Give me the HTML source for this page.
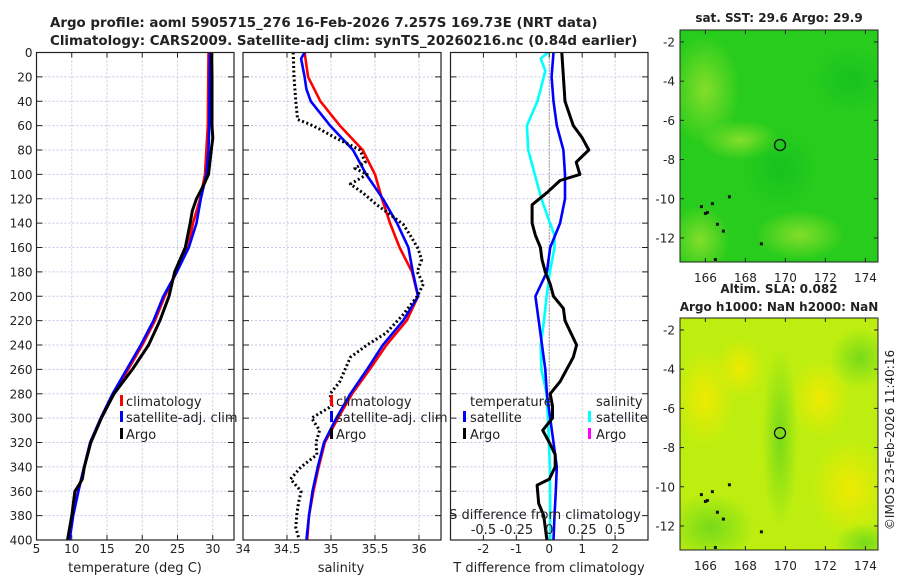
<!DOCTYPE html>
<html><head><meta charset="utf-8"><style>
body{margin:0;background:#fff;}
svg text{font-family:"DejaVu Sans","Liberation Sans",sans-serif;fill:#222;}
</style></head><body>
<svg id="c" width="900" height="580" viewBox="0 0 900 580" xmlns="http://www.w3.org/2000/svg">
<defs>
<radialGradient id="g1" cx="50%" cy="50%" r="50%"><stop offset="0" stop-color="#8ee02c" stop-opacity="0.9"/><stop offset="1" stop-color="#8ee02c" stop-opacity="0"/></radialGradient>
<radialGradient id="g2" cx="50%" cy="50%" r="50%"><stop offset="0" stop-color="#f0ea00" stop-opacity="0.95"/><stop offset="1" stop-color="#f0ea00" stop-opacity="0"/></radialGradient>
<radialGradient id="g3" cx="50%" cy="50%" r="50%"><stop offset="0" stop-color="#6fd81a" stop-opacity="0.9"/><stop offset="1" stop-color="#6fd81a" stop-opacity="0"/></radialGradient>
<radialGradient id="g4" cx="50%" cy="50%" r="50%"><stop offset="0" stop-color="#12c020" stop-opacity="0.8"/><stop offset="1" stop-color="#12c020" stop-opacity="0"/></radialGradient>
<clipPath id="m1"><rect x="680" y="30" width="198" height="232"/></clipPath>
<clipPath id="m2"><rect x="680" y="318" width="198" height="232"/></clipPath>
</defs>
<text x="50" y="27" font-size="13.4" font-weight="bold">Argo profile: aoml 5905715_276 16-Feb-2026 7.257S 169.73E (NRT data)</text>
<text x="50" y="45" font-size="13.4" font-weight="bold">Climatology: CARS2009. Satellite-adj clim: synTS_20260216.nc (0.84d earlier)</text>
<text x="779" y="22" font-size="12" font-weight="bold" text-anchor="middle">sat. SST: 29.6 Argo: 29.9</text>
<text x="779" y="293" font-size="12" font-weight="bold" text-anchor="middle">Altim. SLA: 0.082</text>
<text x="779" y="311" font-size="12" font-weight="bold" text-anchor="middle">Argo h1000: NaN h2000: NaN</text>
<text transform="translate(894,440) rotate(-90)" font-size="12" text-anchor="middle">©IMOS 23-Feb-2026 11:40:16</text>
<g id="plots"></g>
</svg>
<script>
const depthTicks=[0,20,40,60,80,100,120,140,160,180,200,220,240,260,280,300,320,340,360,380,400];
// temperature panel
const tDepth=[0,60,80,100,120,140,160,180,200,220,240,260,280,300,320,340,360,380,400];
const tClim=[29.4,29.3,29.1,28.9,28.2,27.2,26.5,24.9,23.2,21.8,20.0,18.0,15.9,14.15,12.66,11.75,10.9,10.1,9.6];
const tSat=[29.6,29.5,29.4,29.1,28.3,27.7,26.6,24.9,23.0,21.6,19.8,17.8,15.8,14.1,12.6,11.75,10.95,10.2,9.7];
const tArgoDepth=[0,20,40,60,70,80,90,100,110,120,130,140,160,180,200,220,240,260,280,300,320,340,350,355,360,380,400];
const tArgo=[29.85,29.9,29.9,29.9,30.0,29.8,29.6,29.4,28.6,27.7,27.1,26.8,26.1,24.6,23.8,22.5,20.9,18.6,16.0,14.2,12.7,11.8,11.5,11.0,10.45,10.0,9.4];
const tTicks=[5,10,15,20,25,30];
// salinity panel
const sDepth=[0,20,40,60,80,100,120,140,160,180,200,220,240,260,280,300,320,340,360,380,400];
const sClim=[34.70,34.74,34.88,35.10,35.36,35.50,35.58,35.67,35.78,35.92,35.99,35.86,35.63,35.44,35.24,35.08,34.93,34.86,34.80,34.75,34.73];
const sSatDepth=[0,5,20,30,40,60,80,100,120,140,160,180,200,220,240,260,280,300,320,340,360,380,400];
const sSat=[34.70,34.66,34.70,34.72,34.77,34.99,35.25,35.40,35.59,35.75,35.88,35.93,35.99,35.82,35.59,35.41,35.22,35.06,34.92,34.85,34.79,34.75,34.72];
const sArgoDepth=[0,20,40,55,58,62,70,80,90,95,100,108,115,125,141,150,161,170,180,190,200,215,230,240,250,270,280,290,300,310,320,330,340,350,360,370,380,390,400];
const sArgo=[34.57,34.58,34.60,34.62,34.73,34.85,35.05,35.33,35.39,35.27,35.41,35.22,35.36,35.52,35.82,35.90,35.99,36.03,35.98,36.05,35.98,35.82,35.63,35.41,35.22,35.10,34.99,35.01,34.78,34.87,34.83,34.84,34.66,34.54,34.66,34.63,34.61,34.60,34.64];
const sTicks=[34,34.5,35,35.5,36];
// difference panel
const dSatDepth=[0,20,40,60,80,100,120,140,160,180,200,220,240,260,280,300,320,340,360,380,400];
const dTSat=[0.13,0.07,0.13,0.23,0.43,0.48,0.48,0.33,0.03,-0.07,-0.42,-0.32,-0.22,-0.12,-0.07,0.03,0.13,0.23,0.2,0.16,0.13];
const dArgoDepth=[0,20,40,60,70,80,90,100,105,115,125,140,150,160,170,180,190,200,210,220,240,250,260,270,280,290,300,310,320,330,340,350,355,370,380,400];
const dTArgo=[0.38,0.43,0.48,0.73,1.0,1.2,0.82,0.93,0.33,-0.07,-0.52,-0.52,-0.42,-0.27,-0.22,-0.12,0.03,0.13,0.43,0.48,0.83,0.73,0.53,0.33,0.03,0.1,0.1,-0.2,0.0,0.18,0.18,0.0,-0.37,-0.32,-0.17,-0.07];
const dSDepth=[0,5,15,30,40,60,80,100,120,140,150,160,180,200,220,240,260,280,300,340,400];
const dSSat=[-0.01,-0.065,-0.03,-0.065,-0.09,-0.17,-0.16,-0.11,-0.06,0.005,0.04,0.04,0.005,-0.02,-0.04,-0.065,-0.06,-0.02,-0.01,0.005,0.008];
const dTTicks=[-2,-1,0,1,2];
const dSTickVals=[-0.5,-0.25,0,0.25,0.5];
const dSTickLabels=["-0.5","-0.25","0","0.25","0.5"];
// maps
const lonTicks=[166,168,170,172,174];
const latTicks=[-2,-4,-6,-8,-10,-12];
const argoLon=169.73, argoLat=-7.257;
const islandsLon=[165.8,166.0,166.1,166.6,166.9,167.2,166.35,168.8,166.5];
const islandsLat=[-10.4,-10.75,-10.7,-11.3,-11.65,-9.9,-10.25,-12.3,-13.1];

const NS="http://www.w3.org/2000/svg";
const root=document.getElementById('plots');
function el(tag,attrs,parent){const e=document.createElementNS(NS,tag);for(const k in attrs)e.setAttribute(k,attrs[k]);(parent||root).appendChild(e);return e;}
const top0=52.5, bot=540;
const yD=d=>top0+(bot-top0)*d/400;
function mkx(x0,x1,v0,v1){return v=>x0+(x1-x0)*(v-v0)/(v1-v0);}

function panel(name,x0,x1,xs,xticks,xlabels,showY){
  const g=el('g',{});
  
  
  xticks.forEach(v=>{const x=xs(v);
    const l=el('line',{x1:x,x2:x,y1:top0,y2:bot,stroke:'#c9c6e6','stroke-dasharray':'2,2','stroke-width':1},g);
    
    el('line',{x1:x,x2:x,y1:bot,y2:bot-5,stroke:'#222'},g);el('line',{x1:x,x2:x,y1:top0,y2:top0+5,stroke:'#222'},g);});
  depthTicks.forEach(d=>{const y=yD(d);
    const l=el('line',{x1:x0,x2:x1,y1:y,y2:y,stroke:'#c9c6e6','stroke-dasharray':'2,2','stroke-width':1},g);
    
    el('line',{x1:x0,x2:x0+6,y1:y,y2:y,stroke:'#222'},g);el('line',{x1:x1,x2:x1-6,y1:y,y2:y,stroke:'#222'},g);
    if(showY){const t=el('text',{x:x0-4,y:y+4.5,'font-size':12,'text-anchor':'end'},g);t.textContent=d;
      }});
  if(xlabels) xticks.forEach((v,i)=>{const t=el('text',{x:xs(v),y:553,'font-size':12,'text-anchor':'middle'},g);t.textContent=xlabels[i];
    });
  return g;
}
function line(g,name,xs,vals,depths,color,w,dash){
  const pts=vals.map((v,i)=>xs(v).toFixed(1)+','+yD(depths[i]).toFixed(1)).join(' ');
  const p=el('polyline',{points:pts,fill:'none',stroke:color,'stroke-width':w,'stroke-linejoin':'round'},g);
  if(dash)p.setAttribute('stroke-dasharray',dash);
  
  
}
function frame(g,x0,x1){el('rect',{x:x0,y:top0,width:x1-x0,height:bot-top0,fill:'none',stroke:'#222','stroke-width':1.2},g);}
function txt(g,name,x,y,s,size,anchor){const t=el('text',{x:x,y:y,'font-size':size||12,'text-anchor':anchor||'start'},g);t.textContent=s;
  return t;}
function legMark(g,x,y,color){el('rect',{x:x,y:y-11,width:3,height:11,fill:color},g);}

// Panel 1
const xT=mkx(36.5,234,5,5+197.5/7.05);
const g1=panel('temperature-panel',36.5,234,xT,tTicks,tTicks.map(String),true);
line(g1,'temperature-climatology-line',xT,tClim,tDepth,'#ff0000',2.6);
line(g1,'temperature-satellite-line',xT,tSat,tDepth,'#0000ff',2.6);
line(g1,'temperature-argo-line',xT,tArgo,tArgoDepth,'#000',3);
frame(g1,36.5,234);
txt(g1,'temperature-axis-title',135,572,'temperature (deg C)',13,'middle');
legMark(g1,120,406,'#ff0000');txt(g1,'legend-climatology',126,406,'climatology',13);
legMark(g1,120,422,'#0000ff');txt(g1,'legend-satellite-adj',126,422,'satellite-adj. clim',13);
legMark(g1,120,439,'#000');txt(g1,'legend-argo',126,439,'Argo',13);

// Panel 2
const xS=mkx(243,441,34,34+198/88);
const g2=panel('salinity-panel',243,441,xS,sTicks,["34","34.5","35","35.5","36"],false);
line(g2,'salinity-climatology-line',xS,sClim,sDepth,'#ff0000',2.6);
line(g2,'salinity-satellite-line',xS,sSat,sSatDepth,'#0000ff',2.6);
line(g2,'salinity-argo-line',xS,sArgo,sArgoDepth,'#000',3,'2,2.5');
frame(g2,243,441);
txt(g2,'salinity-axis-title',341,572,'salinity',13,'middle');
legMark(g2,330,406,'#ff0000');txt(g2,'legend-climatology-2',336,406,'climatology',13);
legMark(g2,330,422,'#0000ff');txt(g2,'legend-satellite-adj-2',336,422,'satellite-adj. clim',13);
legMark(g2,330,439,'#000');txt(g2,'legend-argo-2',336,439,'Argo',13);

// Panel 3
const xD=mkx(450.5,648,-3,3);
const xDS=mkx(450.5,648,-0.75,0.75);
const g3=panel('difference-panel',450.5,648,xD,dTTicks,dTTicks.map(String),false);
el('line',{x1:xD(0),x2:xD(0),y1:top0,y2:bot,stroke:'#555','stroke-dasharray':'1,2'},g3);
line(g3,'salinity-satellite-diff-line',xDS,dSSat,dSDepth,'#00ffff',2.6);
line(g3,'temperature-satellite-diff-line',xD,dTSat,dSatDepth,'#0000ff',2.6);
line(g3,'temperature-argo-diff-line',xD,dTArgo,dArgoDepth,'#000',3);
frame(g3,450.5,648);
txt(g3,'t-diff-axis-title',549,572,'T difference from climatology',13,'middle');
txt(g3,'s-diff-axis-title',545,519,'S difference from climatology',13,'middle');
dSTickVals.forEach((v,i)=>txt(g3,'s-diff-tick-label',xDS(v),534,dSTickLabels[i],13,'middle'));
txt(g3,'legend-temperature-header',470,406,'temperature',13);
txt(g3,'legend-salinity-header',596,406,'salinity',13);
legMark(g3,463,422,'#0000ff');txt(g3,'legend-t-satellite',470,422,'satellite',13);
legMark(g3,463,439,'#000');txt(g3,'legend-t-argo',470,439,'Argo',13);
legMark(g3,588,422,'#00ffff');txt(g3,'legend-s-satellite',596,422,'satellite',13);
legMark(g3,588,439,'#ff00ff');txt(g3,'legend-s-argo',596,439,'Argo',13);

// Maps
function map(name,y0,clip,kind){
  const g=el('g',{});
  
  
  const mx=mkx(680,880,164.73,174.73);
  const my=v=>y0+(-1.39-v)*19.6;
  const c=el('g',{'clip-path':'url(#'+clip+')'},g);
  if(kind==='sst'){
    el('rect',{x:680,y:y0,width:200,height:232,fill:'#28cc1c'},c);
    el('ellipse',{cx:705,cy:y0+60,rx:35,ry:55,fill:'url(#g1)'},c);
    el('ellipse',{cx:700,cy:y0+210,rx:30,ry:35,fill:'url(#g1)'},c);
    el('ellipse',{cx:800,cy:y0+205,rx:45,ry:25,fill:'url(#g1)'},c);
    el('ellipse',{cx:740,cy:y0+110,rx:40,ry:20,fill:'url(#g1)'},c);
    el('ellipse',{cx:850,cy:y0+50,rx:40,ry:35,fill:'url(#g4)'},c);
    el('ellipse',{cx:780,cy:y0+140,rx:40,ry:40,fill:'url(#g4)'},c);
  }else{
    el('rect',{x:680,y:y0,width:200,height:232,fill:'#bdee10'},c);
    el('ellipse',{cx:705,cy:y0+80,rx:30,ry:50,fill:'url(#g2)'},c);
    el('ellipse',{cx:740,cy:y0+50,rx:25,ry:30,fill:'url(#g2)'},c);
    el('ellipse',{cx:820,cy:y0+80,rx:30,ry:40,fill:'url(#g2)'},c);
    el('ellipse',{cx:850,cy:y0+170,rx:40,ry:50,fill:'url(#g2)'},c);
    el('ellipse',{cx:780,cy:y0+120,rx:18,ry:90,fill:'url(#g3)'},c);
    el('ellipse',{cx:710,cy:y0+210,rx:45,ry:35,fill:'url(#g3)'},c);
    el('ellipse',{cx:860,cy:y0+40,rx:30,ry:30,fill:'url(#g3)'},c);
    el('ellipse',{cx:865,cy:y0+225,rx:30,ry:20,fill:'url(#g3)'},c);
  }
  islandsLon.forEach((lo,i)=>{const d=el('rect',{x:mx(lo)-1.5,y:my(islandsLat[i])-1.5,width:3,height:3,fill:'#111'},c);
    });
  const m=el('circle',{cx:mx(argoLon),cy:my(argoLat),r:5.5,fill:'none',stroke:'#111','stroke-width':1.3},g);
  
  el('rect',{x:680,y:y0,width:198,height:232,fill:'none',stroke:'#222'},g);
  lonTicks.forEach(v=>{const x=mx(v);el('line',{x1:x,x2:x,y1:y0+232,y2:y0+228,stroke:'#222'},g);el('line',{x1:x,x2:x,y1:y0,y2:y0+4,stroke:'#222'},g);
    txt(g,'lon-tick-label',x,y0+252,String(v),12,'middle');});
  latTicks.forEach(v=>{const y=my(v);el('line',{x1:680,x2:684,y1:y,y2:y,stroke:'#222'},g);el('line',{x1:878,x2:874,y1:y,y2:y,stroke:'#222'},g);
    txt(g,'lat-tick-label',675,y+4.5,String(v),12,'end');});
}
map('sst-map',30,'m1','sst');
map('sla-map',318,'m2','sla');
</script>
</body></html>
